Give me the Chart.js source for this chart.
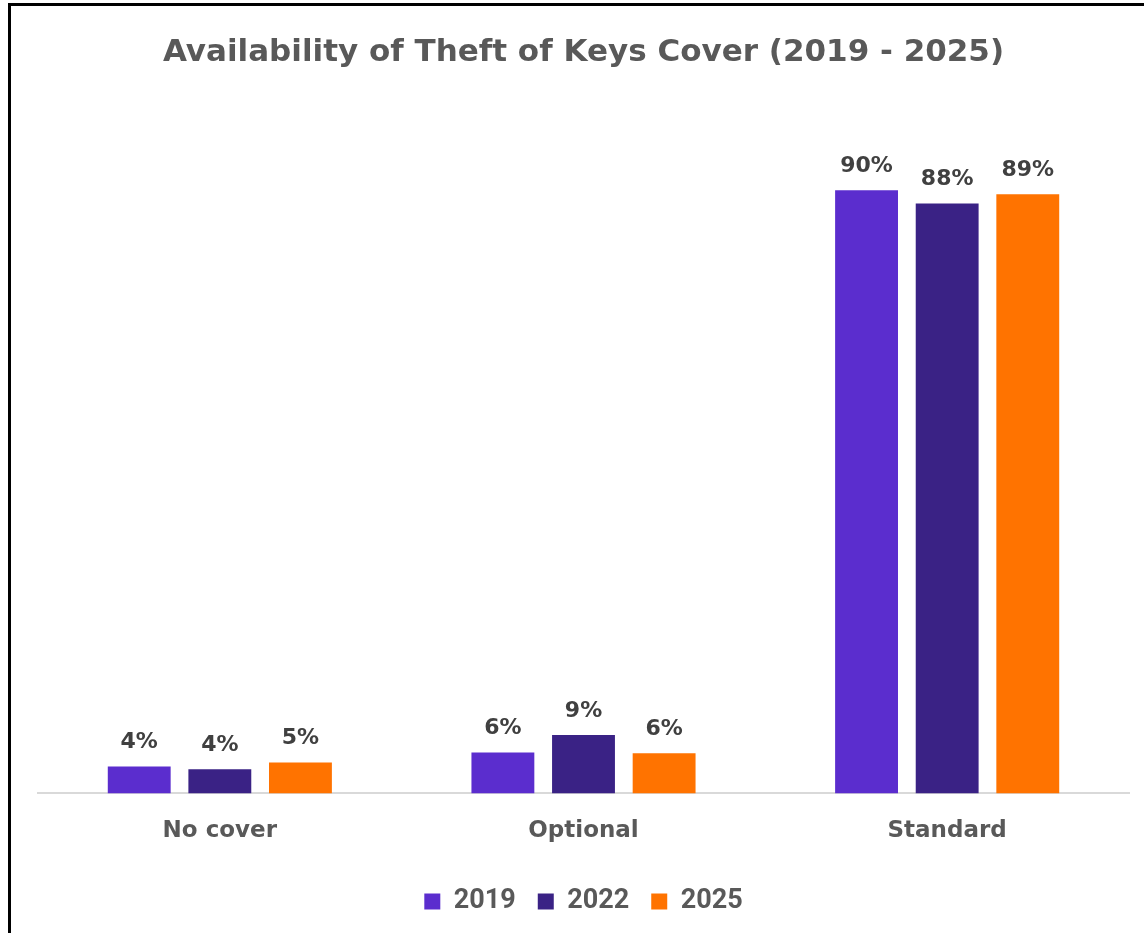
<!DOCTYPE html>
<html>
<head>
<meta charset="utf-8">
<script src="https://cdn.jsdelivr.net/npm/chart.js@4"></script>
<style>
  html, body { margin: 0; padding: 0; background: #fff; }
  #wrap { position: relative; width: 1144px; height: 933px; overflow: hidden; }
  #frame { position: absolute; left: 8px; top: 3px; width: 1200px; height: 1000px;
           border-left: 3px solid #000; border-top: 3px solid #000; pointer-events: none; }
  canvas { position: absolute; left: 0; top: 0; }
</style>
</head>
<body>
<div id="wrap">
  <canvas id="c" width="1144" height="933"></canvas>
  <div id="frame"></div>
</div>
<script>
const categories = ["No cover", "Optional", "Standard"];
const seriesNames = ["2019", "2022", "2025"];
const values2019 = [4.0, 6.1, 90.0];
const values2022 = [3.6, 8.7, 88.0];
const values2025 = [4.6, 6.0, 89.4];
const seriesColors = ["#5B2DCE", "#3A2285", "#FF7300"];

const FONT = "'DejaVu Sans', sans-serif";
const TEXT = "#595959";

const labelPlugin = {
  id: 'barLabels',
  afterDatasetsDraw(chart) {
    const ctx = chart.ctx;
    ctx.save();
    ctx.font = "bold 22px " + FONT;
    ctx.fillStyle = "#404040";
    ctx.textAlign = "center";
    ctx.textBaseline = "bottom";
    chart.data.datasets.forEach((ds, i) => {
      const meta = chart.getDatasetMeta(i);
      meta.data.forEach((bar, j) => {
        ctx.fillText(Math.round(ds.data[j]) + "%", bar.x, bar.y - 13);
      });
    });
    ctx.restore();
  }
};

new Chart(document.getElementById('c'), {
  type: 'bar',
  data: {
    labels: categories,
    datasets: [
      { label: seriesNames[0], data: values2019, backgroundColor: seriesColors[0] },
      { label: seriesNames[1], data: values2022, backgroundColor: seriesColors[1] },
      { label: seriesNames[2], data: values2025, backgroundColor: seriesColors[2] }
    ]
  },
  options: {
    responsive: false,
    animation: false,
    layout: { padding: { left: 38, right: 15, top: 0, bottom: 8 } },
    datasets: { bar: { barPercentage: 0.78, categoryPercentage: 0.665 } },
    scales: {
      x: {
        grid: { display: false },
        border: { display: true, color: "#D9D9D9", width: 2 },
        ticks: { color: TEXT, font: { family: FONT, size: 23, weight: 'bold' }, padding: 16 },
        afterFit(scale) { scale.height += 5; }
      },
      y: {
        display: false,
        min: 0, max: 100
      }
    },
    plugins: {
      title: {
        display: true,
        text: "Availability of Theft of Keys Cover (2019 - 2025)",
        color: TEXT,
        font: { family: FONT, size: 31, weight: 'bold' },
        padding: { top: 34, bottom: 52 }
      },
      legend: {
        position: 'bottom',
        labels: {
          color: TEXT,
          font: { family: "Roboto, sans-serif", size: 27, weight: 'bold' },
          boxWidth: 16, boxHeight: 16,
          padding: 22
        }
      },
      tooltip: { enabled: false }
    }
  },
  plugins: [labelPlugin]
});
</script>
</body>
</html>
